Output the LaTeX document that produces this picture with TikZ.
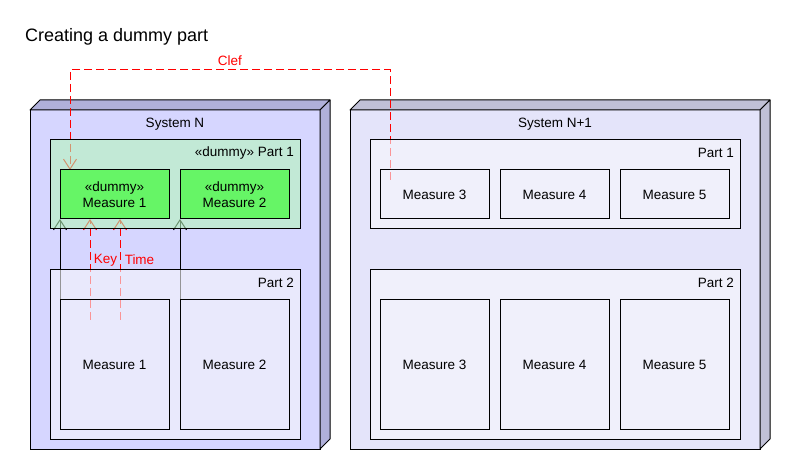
\documentclass[tikz,border=0pt]{standalone}
\usepackage{fontspec}
\setmainfont{Liberation Sans}
\usetikzlibrary{arrows.meta,calc}
\definecolor{sysNf}{RGB}{214,214,255}
\definecolor{sysNs}{RGB}{176,176,218}
\definecolor{sysMf}{RGB}{228,228,250}
\definecolor{sysMs}{RGB}{192,192,214}
\definecolor{dumP}{RGB}{181,247,187}
\definecolor{partN}{RGB}{247,247,250}
\definecolor{partM}{RGB}{248,248,253}
\definecolor{dumM}{RGB}{102,245,102}
\definecolor{relR}{RGB}{255,0,0}
\pgfdeclarelayer{bg}
\pgfdeclarelayer{conn}
\pgfsetlayers{bg,conn,main}
\begin{document}
\begin{tikzpicture}[x=1pt,y=-1pt,
  box/.style={draw=black, line width=1pt, inner sep=0pt, outer sep=0pt, anchor=north west},
  sysbox/.style={box},
  partbox/.style={box, fill opacity=0.6, draw opacity=1},
  measbox/.style={box, minimum width=109pt},
  txt/.style={font=\fontsize{13.5}{15.5}\selectfont, inner sep=0pt, text=black},
  face/.style={draw=black, line width=1pt, line join=round},
  dep/.style={relR, line width=1pt, dash pattern=on 8pt off 4pt, -{Straight Barb[length=10pt,width=13pt]}},
  use/.style={black, line width=1pt, -{Straight Barb[length=10pt,width=13pt]}},
  rlbl/.style={txt, text=relR}
]
\useasboundingbox (0,0) rectangle (790,470);

% title
\node[font=\fontsize{18}{21}\selectfont, anchor=base west, inner sep=0pt] (title) at (25,42) {Creating a dummy part};

% systems (background layer)
\begin{pgfonlayer}{bg}
\fill[white] (0,0) rectangle (790,470);
\node[sysbox, fill=sysNf, minimum width=290pt, minimum height=339pt] (sysN) at (30,110) {};
\filldraw[face, fill=sysNs] (sysN.north west) -- ++(10pt,10pt) -- ($(sysN.north east)+(10pt,10pt)$) -- (sysN.north east) -- cycle;
\filldraw[face, fill=sysNs] (sysN.north east) -- ++(10pt,10pt) -- ($(sysN.south east)+(10pt,10pt)$) -- (sysN.south east) -- cycle;
\node[sysbox, fill=sysMf, minimum width=410pt, minimum height=339pt] (sysM) at (350,110) {};
\filldraw[face, fill=sysMs] (sysM.north west) -- ++(10pt,10pt) -- ($(sysM.north east)+(10pt,10pt)$) -- (sysM.north east) -- cycle;
\filldraw[face, fill=sysMs] (sysM.north east) -- ++(10pt,10pt) -- ($(sysM.south east)+(10pt,10pt)$) -- (sysM.south east) -- cycle;
\end{pgfonlayer}
\node[txt] (sysNlbl) at (175,124) {System N};
\node[txt] (sysMlbl) at (555,124) {System N+1};

% parts
\node[partbox, fill=dumP, minimum width=250pt, minimum height=89pt] (p1N) at (50,140) {};
\node[partbox, fill=partN, minimum width=250pt, minimum height=169pt] (p2N) at (50,270) {};
\node[partbox, fill=partM, minimum width=370pt, minimum height=89pt] (p1M) at (370,140) {};
\node[partbox, fill=partM, minimum width=370pt, minimum height=169pt] (p2M) at (370,270) {};
\node[txt, anchor=east] (p1Nlbl) at (294,153) {«dummy» Part 1};
\node[txt, anchor=east] (p2Nlbl) at (294,283) {Part 2};
\node[txt, anchor=east] (p1Mlbl) at (734,153) {Part 1};
\node[txt, anchor=east] (p2Mlbl) at (734,283) {Part 2};

% measures
\node[measbox, fill=dumM, minimum height=49pt] (m1d) at (60,170) {};
\node[measbox, fill=dumM, minimum height=49pt] (m2d) at (180,170) {};
\node[txt, align=center] at (m1d.center) {«dummy»\\Measure 1};
\node[txt, align=center] at (m2d.center) {«dummy»\\Measure 2};

\node[measbox, minimum height=129pt] (m1) at (60,300) {};
\node[measbox, minimum height=129pt] (m2) at (180,300) {};
\node[txt] at (m1.center) {Measure 1};
\node[txt] at (m2.center) {Measure 2};

\node[measbox, minimum height=49pt] (m3) at (380,170) {};
\node[measbox, minimum height=49pt] (m4) at (500,170) {};
\node[measbox, minimum height=49pt] (m5) at (620,170) {};
\node[txt] at (m3.center) {Measure 3};
\node[txt] at (m4.center) {Measure 4};
\node[txt] at (m5.center) {Measure 5};

\node[measbox, minimum height=129pt] (m3b) at (380,300) {};
\node[measbox, minimum height=129pt] (m4b) at (500,300) {};
\node[measbox, minimum height=129pt] (m5b) at (620,300) {};
\node[txt] at (m3b.center) {Measure 3};
\node[txt] at (m4b.center) {Measure 4};
\node[txt] at (m5b.center) {Measure 5};

% connectors
\begin{pgfonlayer}{conn}
\draw[dep] ($(m3.north west)+(10pt,-10pt)$) -- ++(0pt,110pt) -| ($(m1d.north west)+(10pt,0pt)$);
\draw[dep] ($(m1.north west)+(30pt,-20pt)$) -- ($(m1d.south west)+(30pt,0pt)$);
\draw[dep] ($(m1.north west)+(60pt,-20pt)$) -- ($(m1d.south west)+(60pt,0pt)$);
\draw[use] (m1.north west) -- (m1d.south west);
\draw[use] (m2.north west) -- (m2d.south west);
\end{pgfonlayer}
\node[rlbl] (clef) at (230,61) {Clef};
\node[rlbl] (key) at (105.5,260) {Key};
\node[rlbl] (time) at (139.5,260) {Time};
\end{tikzpicture}
\end{document}
